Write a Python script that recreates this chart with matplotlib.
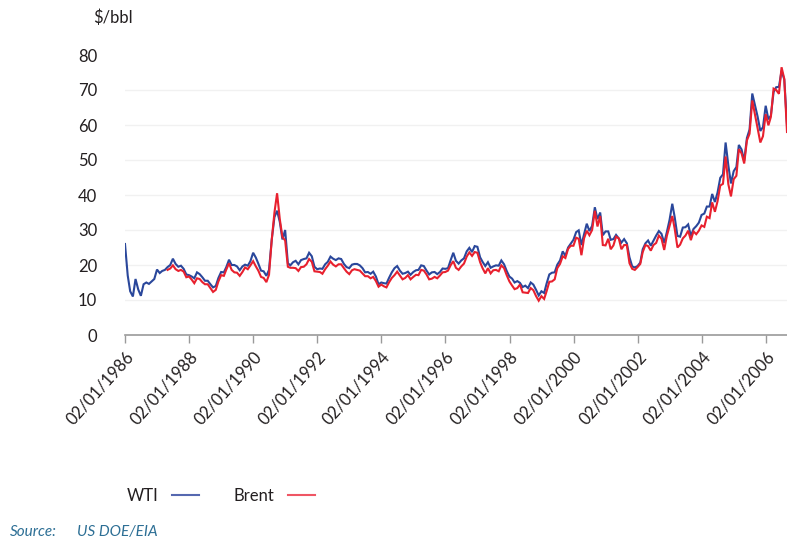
import matplotlib
matplotlib.use("Agg")
import matplotlib.pyplot as plt
from matplotlib.lines import Line2D
import pandas as pd

plt.rcParams['font.family'] = ['Lato', 'DejaVu Sans']

# ---- data (monthly readings, $/bbl) ----
wti_start = "1986-01-01"
wti = [
    26.0, 17.0, 12.5, 11.0, 16.0, 13.0, 11.2, 14.5, 15.0, 14.6, 15.3, 16.0,   # 1986
    18.7, 17.7, 18.3, 18.6, 19.4, 20.0, 21.8, 20.3, 19.5, 19.8, 18.9, 17.3,   # 1987
    17.1, 16.7, 16.2, 17.9, 17.4, 16.5, 15.5, 15.5, 14.5, 13.6, 14.0, 16.3,   # 1988
    18.0, 17.9, 19.4, 21.5, 20.0, 20.0, 19.6, 18.5, 19.6, 20.1, 19.8, 21.1,   # 1989
    23.5, 22.1, 20.4, 18.4, 18.2, 16.9, 18.6, 27.2, 33.7, 35.5, 32.3, 27.3,   # 1990
    30.0, 20.5, 19.9, 20.8, 21.2, 20.2, 21.4, 21.7, 21.9, 23.5, 22.5, 19.5,   # 1991
    18.8, 19.0, 18.9, 20.2, 20.9, 22.4, 21.8, 21.4, 21.9, 21.7, 20.3, 19.4,   # 1992
    19.1, 20.1, 20.3, 20.3, 19.9, 19.1, 17.9, 18.0, 17.5, 18.1, 16.7, 14.5,   # 1993
    15.0, 14.8, 14.7, 16.4, 17.9, 19.1, 19.7, 18.4, 17.5, 17.7, 18.1, 17.2,   # 1994
    18.0, 18.5, 18.6, 19.9, 19.7, 18.4, 17.3, 17.9, 18.0, 17.4, 18.0, 19.0,   # 1995
    18.9, 19.1, 21.3, 23.5, 21.2, 20.4, 21.3, 21.9, 23.9, 24.9, 23.7, 25.4,   # 1996
    25.2, 22.2, 20.9, 19.7, 20.8, 19.2, 19.6, 19.9, 19.8, 21.3, 20.2, 18.3,   # 1997
    16.7, 16.1, 15.0, 15.4, 14.9, 13.7, 14.1, 13.4, 15.0, 14.4, 12.9, 11.3,   # 1998
    12.5, 12.0, 14.7, 17.3, 17.8, 17.9, 20.1, 21.3, 23.9, 22.6, 25.0, 26.1,   # 1999
    27.2, 29.4, 29.9, 25.7, 28.8, 31.8, 29.7, 31.2, 36.5, 33.1, 35.0, 28.5,   # 2000
    29.6, 29.6, 27.2, 27.4, 28.6, 27.6, 26.4, 27.4, 26.2, 22.2, 19.6, 19.3,   # 2001
    19.7, 20.7, 24.5, 26.2, 27.0, 25.5, 26.9, 28.4, 29.7, 28.9, 26.3, 29.4,   # 2002
    32.9, 37.5, 33.6, 28.3, 28.1, 30.7, 30.8, 31.6, 28.3, 30.3, 31.1, 32.1,   # 2003
    34.3, 34.7, 36.7, 36.7, 40.3, 38.0, 40.7, 44.9, 45.9, 55.0, 48.5, 43.3,   # 2004
    46.8, 48.0, 54.3, 53.0, 49.8, 56.3, 58.7, 69.0, 65.6, 62.4, 58.3, 59.4,   # 2005
    65.5, 61.6, 62.7, 69.4, 70.8, 70.9, 75.5, 73.0, 60.0,                     # 2006
]

brent_start = "1987-05-01"
brent = [
    18.6, 19.0, 19.9, 18.8, 18.3, 18.6, 18.1, 16.5,                           # 1987
    16.7, 15.8, 14.8, 16.2, 16.0, 15.1, 14.5, 14.5, 13.4, 12.3, 12.9, 15.3,   # 1988
    17.1, 16.9, 18.7, 20.5, 18.6, 17.9, 17.8, 16.9, 18.0, 19.3, 18.8, 19.9,   # 1989
    21.1, 19.6, 18.4, 16.6, 16.3, 15.1, 17.2, 27.2, 35.0, 40.5, 33.1, 28.0,   # 1990
    27.0, 19.5, 19.2, 19.2, 19.1, 18.3, 19.4, 19.5, 20.2, 21.7, 20.9, 18.2,   # 1991
    18.1, 18.0, 17.5, 18.8, 19.8, 21.0, 20.1, 19.6, 20.2, 20.2, 19.1, 18.1,   # 1992
    17.4, 18.5, 18.8, 18.6, 18.4, 17.6, 16.8, 16.8, 16.2, 16.6, 15.4, 13.8,   # 1993
    14.4, 13.9, 13.6, 15.1, 16.3, 17.1, 18.1, 17.0, 15.9, 16.3, 17.1, 15.9,   # 1994
    16.6, 17.2, 17.1, 18.6, 18.4, 17.3, 15.9, 16.1, 16.6, 16.2, 17.0, 17.9,   # 1995
    18.0, 18.4, 19.9, 21.1, 19.2, 18.6, 19.6, 20.4, 22.4, 23.6, 22.6, 23.7,   # 1996
    23.5, 20.8, 19.1, 17.6, 19.1, 17.6, 18.5, 18.6, 18.2, 19.9, 19.1, 17.1,   # 1997
    15.3, 14.1, 13.1, 13.4, 14.4, 12.2, 12.1, 12.0, 13.4, 12.8, 11.1, 9.8,    # 1998
    11.1, 10.3, 12.5, 15.2, 15.3, 15.9, 19.1, 20.3, 22.5, 22.0, 24.6, 25.5,   # 1999
    25.5, 27.8, 27.5, 22.8, 27.6, 29.8, 28.5, 30.0, 35.5, 31.0, 34.0, 25.7,   # 2000
    25.6, 27.5, 24.5, 25.6, 28.1, 27.6, 24.5, 25.7, 25.7, 20.5, 18.9, 18.6,   # 2001
    19.4, 20.3, 23.7, 25.7, 25.4, 24.1, 25.7, 26.3, 28.4, 27.5, 24.3, 28.3,   # 2002
    31.2, 34.0, 30.3, 25.0, 25.8, 27.6, 28.4, 29.8, 27.1, 29.6, 28.8, 29.8,   # 2003
    31.3, 30.9, 33.8, 33.4, 37.9, 35.2, 38.2, 42.7, 43.2, 51.0, 43.1, 39.6,   # 2004
    44.5, 45.5, 53.1, 51.9, 49.0, 55.6, 57.5, 67.0, 63.0, 59.0, 55.0, 56.8,   # 2005
    63.1, 59.9, 62.3, 70.4, 70.0, 68.9, 76.5, 73.2, 58.0,                     # 2006
]

tick_years = [1986, 1988, 1990, 1992, 1994, 1996, 1998, 2000, 2002, 2004, 2006]
y_ticks = [0, 10, 20, 30, 40, 50, 60, 70, 80]

wti_dates = pd.date_range(wti_start, periods=len(wti), freq="MS")
brent_dates = pd.date_range(brent_start, periods=len(brent), freq="MS")

WTI_C = "#2a479b"
BRENT_C = "#e8202e"
TXT = "#231f20"

fig = plt.figure(figsize=(7.87, 5.43), dpi=100)
ax = fig.add_axes([125 / 787, (543 - 335) / 543, 1 - 125 / 787, (335 - 55) / 543])

ax.plot(wti_dates, wti, color=WTI_C, lw=1.5, solid_joinstyle="miter")
ax.plot(brent_dates, brent, color=BRENT_C, lw=1.5, solid_joinstyle="miter")

ax.set_ylim(0, 80)
ax.set_xlim(pd.Timestamp("1986-01-01"), wti_dates[-1])
ax.set_yticks(y_ticks)
ax.set_yticklabels([str(v) for v in y_ticks], fontsize=12, color=TXT)
ax.tick_params(axis="y", length=0, pad=20)
for v in y_ticks[1:-1]:
    ax.axhline(v, color="#f1f1f1", lw=1.0, zorder=0)

xt = [pd.Timestamp(f"{y}-01-02") for y in tick_years]
ax.set_xticks(xt)
ax.set_xticklabels([f"02/01/{y}" for y in tick_years], rotation=48, ha="right",
                   va="top", rotation_mode="anchor", fontsize=12, color=TXT)
ax.tick_params(axis="x", length=6, width=1, color="#9a9a9a", pad=4)

for s in ["top", "right", "left"]:
    ax.spines[s].set_visible(False)
ax.spines["bottom"].set_color("#9a9a9a")
ax.spines["bottom"].set_linewidth(1.2)

fig.text(93 / 787, 1 - 18 / 543, "$/bbl", fontsize=12, color=TXT, va="center", ha="left")

handles = [Line2D([], [], color="#5568b0", lw=1.5), Line2D([], [], color="#ef5664", lw=1.5)]
fig.legend(handles, ["WTI", "Brent"], loc="center left",
           bbox_to_anchor=(112 / 787, 1 - 496 / 543), ncol=2, frameon=False,
           markerfirst=False, handlelength=1.6, handletextpad=0.8, columnspacing=2.1,
           prop={"size": 12})
for t in fig.legends[0].get_texts():
    t.set_color(TXT)

fig.text(10 / 787, 1 - 532 / 543, "Source:", fontsize=11, color="#2d6f95",
         style="italic", va="center", ha="left")
fig.text(77 / 787, 1 - 532 / 543, "US DOE/EIA", fontsize=11, color="#2d6f95",
         style="italic", va="center", ha="left")

fig.savefig("out.png", dpi=100)
